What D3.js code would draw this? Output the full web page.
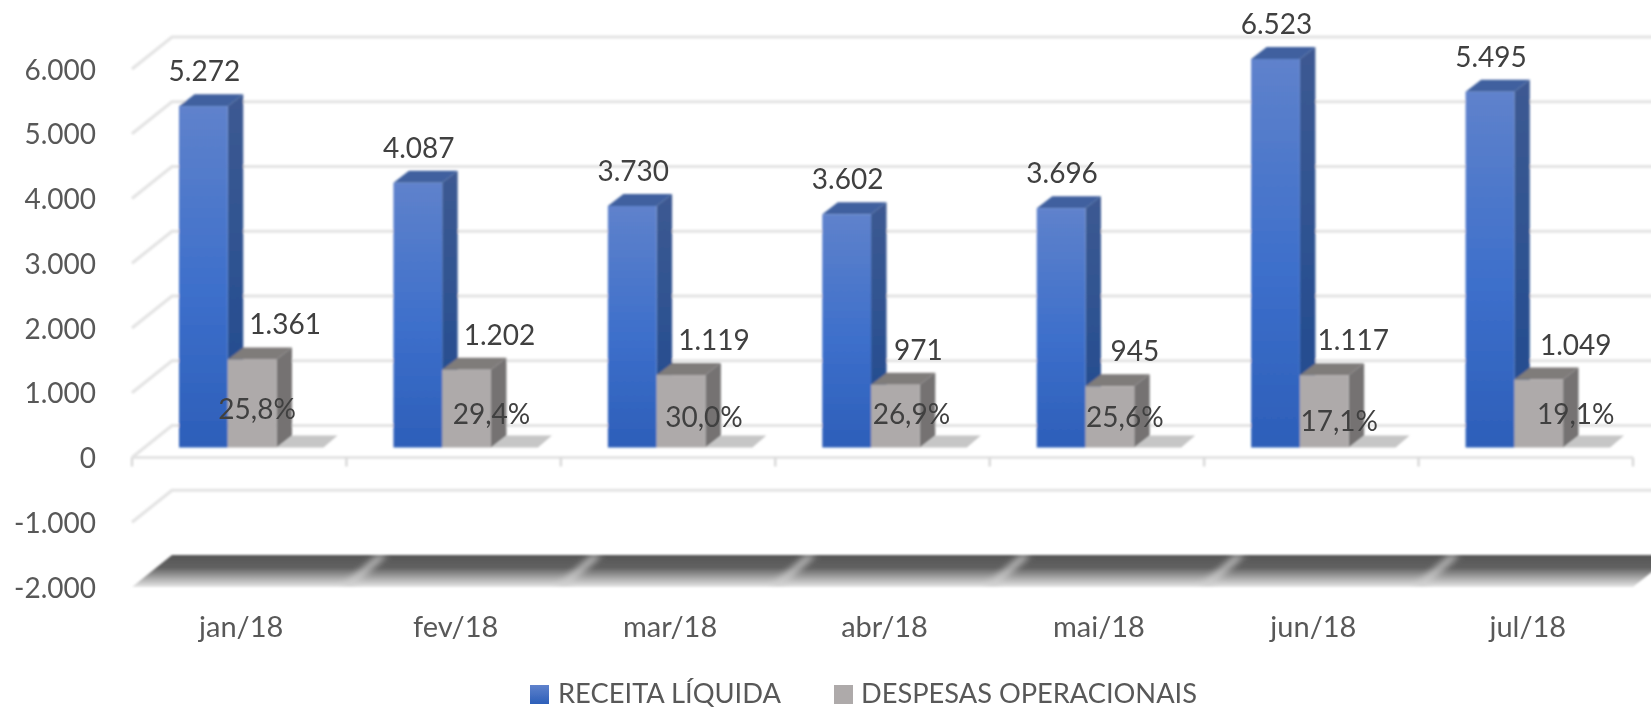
<!DOCTYPE html>
<html><head><meta charset="utf-8">
<script src="https://cdn.jsdelivr.net/npm/d3@7"></script>
<style>html,body{margin:0;padding:0;background:#fff;overflow:hidden}svg{display:block}text{font-family:Lato,sans-serif}</style>
</head><body><svg id="c" width="1651" height="709"></svg>
<script>
const categories = ["jan/18","fev/18","mar/18","abr/18","mai/18","jun/18","jul/18"];
const receita = [5272,4087,3730,3602,3696,6523,5495];
const despesas = [1361,1202,1119,971,945,1117,1049];
const percentuais = ["25,8%","29,4%","30,0%","26,9%","25,6%","17,1%","19,1%"];
const yTicks = [-2000,-1000,0,1000,2000,3000,4000,5000,6000];
const seriesNames = ["RECEITA LÍQUIDA","DESPESAS OPERACIONAIS"];

// label nudges relative to the grey bar centre
const valueNudge = [33,33,33,23,25,29,37];
const pctNudgeX = [5,25,23,16,15,15,37];
const pctNudgeY = [-39,-34,-31,-34,-31,-27,-34];

const svg = d3.select("#c");
const depth = {dx:40, dy:-32};
const barDepth = {dx:15.5, dy:-12};
const x = d3.scaleBand().domain(categories).range([132,1633]);
const inner = d3.scaleBand().domain([0,1]).range([47,144.5]);
const y = d3.scaleLinear().domain([-2000,6000]).range([587,69]).clamp(true);
const loc = d3.formatLocale({decimal:",",thousands:".",grouping:[3],currency:["",""],minus:"-"});
const fmt = loc.format(",d");

const defs = svg.append("defs");
function grad(id,stops){
  const g = defs.append("linearGradient").attr("id",id).attr("x1",0).attr("y1",0).attr("x2",0).attr("y2",1);
  stops.forEach(s=>g.append("stop").attr("offset",s[0]).attr("stop-color",s[1]));
}
grad("blueFront",[[0,"#5f82cc"],[0.55,"#3d6fcb"],[1,"#2d5fb9"]]);
grad("blueSide",[[0,"#3d5a92"],[1,"#1f4a90"]]);
grad("legendBlue",[[0,"#5f82cc"],[1,"#2d5fb9"]]);
grad("floor",[[0,"#555555"],[0.4,"#616161"],[0.72,"#a9a9a9"],[1,"#e6e6e6"]]);
defs.append("filter").attr("id","soft").attr("x","-5%").attr("y","-5%").attr("width","110%").attr("height","110%")
  .append("feGaussianBlur").attr("stdDeviation",0.9);
defs.append("filter").attr("id","softText").attr("x","-5%").attr("y","-5%").attr("width","110%").attr("height","110%")
  .append("feGaussianBlur").attr("stdDeviation",0.45);
defs.append("filter").attr("id","seam").attr("x","-100%").attr("y","-30%").attr("width","300%").attr("height","160%")
  .append("feGaussianBlur").attr("stdDeviation",3);

const chart = svg.append("g").attr("filter","url(#soft)");
const grid = chart.append("g");
const gridColor = "#e3e3e3";
const x0 = x.range()[0], x1 = x.range()[1];

// Gridlines: back wall + left side wall
yTicks.filter(t=>t>-2000).forEach(t=>{
  grid.append("path").attr("fill","none").attr("stroke",gridColor).attr("stroke-width",3.2)
    .attr("d",d3.line()([[x0,y(t)],[x0+depth.dx,y(t)+depth.dy],[x1+depth.dx,y(t)+depth.dy]]));
});
// Floor front edge and ticks at zero
grid.append("line").attr("x1",x0).attr("x2",x1).attr("y1",y(0)).attr("y2",y(0)).attr("stroke",gridColor).attr("stroke-width",3.2);
d3.range(categories.length+1).forEach(i=>{
  const tx = x0+i*x.bandwidth();
  grid.append("line").attr("x1",tx).attr("x2",tx).attr("y1",y(0)).attr("y2",y(0)+9).attr("stroke","#d9d9d9").attr("stroke-width",2.5);
});

// Dark base at the axis minimum: continuous plate with soft seams
const f = y(-2000);
const plate = [[x0,f],[x1,f],[x1+depth.dx,f+depth.dy],[x0+depth.dx,f+depth.dy]];
defs.append("clipPath").attr("id","plateClip").append("polygon").attr("points",plate.join(" "));
const floorG = chart.append("g");
floorG.append("polygon").attr("fill","url(#floor)").attr("points",plate.join(" "));
const seams = floorG.append("g").attr("clip-path","url(#plateClip)").append("g").attr("filter","url(#seam)");
d3.range(1,categories.length).forEach(i=>{
  const tx = x0+i*x.bandwidth();
  seams.append("polygon").attr("fill","#cfcfcf").attr("fill-opacity",0.8)
    .attr("points",[[tx-6,f],[tx+6,f],[tx+depth.dx+1,f+depth.dy],[tx+depth.dx-9,f+depth.dy]].join(" "));
});

// Bars
const baseShift = -10;
function drawBar(g,xp,w,top,base,front,side,topC){
  const d=barDepth;
  g.append("polygon").attr("fill",side)
    .attr("points",[[xp+w,top],[xp+w+d.dx,top+d.dy],[xp+w+d.dx,base+d.dy],[xp+w,base]].join(" "));
  g.append("polygon").attr("fill",topC)
    .attr("points",[[xp,top],[xp+d.dx,top+d.dy],[xp+w+d.dx,top+d.dy],[xp+w,top]].join(" "));
  g.append("rect").attr("x",xp).attr("y",top).attr("width",w).attr("height",base-top).attr("fill",front);
}
const bars = chart.append("g");
categories.forEach((c,i)=>{
  const base = y(0)+baseShift;
  const gx = x(c)+inner(1), w = inner.bandwidth();
  // floor shadow
  bars.append("polygon").attr("fill","#c6c6c6")
    .attr("points",[[gx+w,base],[gx+w+47,base],[gx+w+61,base-12],[gx+w+16,base-12]].join(" "));
  const g = bars.append("g");
  drawBar(g,x(c)+inner(0),w,y(receita[i])+baseShift,base,"url(#blueFront)","url(#blueSide)","#41619f");
  drawBar(g,gx,w,y(despesas[i])+baseShift,base,"#aeaaaa","#747272","#7f7b7a");
});

// Data labels
const labels = svg.append("g").attr("fill","#404040").attr("font-size",28).attr("text-anchor","middle").attr("filter","url(#softText)");
categories.forEach((c,i)=>{
  const bx = x(c)+inner(0)+inner.bandwidth()/2+1;
  const gx = x(c)+inner(1)+inner.bandwidth()/2;
  const base = y(0)+baseShift;
  labels.append("text").attr("x",bx).attr("y",y(receita[i])+baseShift-25).text(fmt(receita[i]));
  labels.append("text").attr("x",gx+valueNudge[i]).attr("y",y(despesas[i])+baseShift-25).text(fmt(despesas[i]));
  labels.append("text").attr("x",gx+pctNudgeX[i]).attr("y",base+pctNudgeY[i]+10).text(percentuais[i]);
});

// Axes
const yAxis = d3.axisLeft(y).tickValues(yTicks).tickFormat(fmt).tickSize(0).tickPadding(0);
const ay = svg.append("g").attr("transform","translate(96,0)").attr("filter","url(#softText)").call(yAxis);
ay.select(".domain").remove();
ay.selectAll("text").attr("font-size",28).attr("fill","#595959").style("font-family","Lato,sans-serif").attr("dy","0.36em");
const xAxis = d3.axisBottom(x).tickSize(0).tickPadding(0);
const ax = svg.append("g").attr("transform","translate(2,616)").attr("filter","url(#softText)").call(xAxis);
ax.select(".domain").remove();
ax.selectAll("text").attr("font-size",29).attr("fill","#595959").attr("dy","0.71em").style("font-family","Lato,sans-serif");

// Legend
const legend = svg.append("g").attr("filter","url(#softText)");
const legendLayout = [{sx:530,tx:558,len:223,fill:"url(#legendBlue)"},{sx:834,tx:861,len:336,fill:"#aeaaaa"}];
seriesNames.forEach((s,i)=>{
  const l = legendLayout[i];
  legend.append("rect").attr("x",l.sx).attr("y",685).attr("width",19).attr("height",19).attr("fill",l.fill);
  legend.append("text").attr("x",l.tx).attr("y",703).attr("font-size",27).attr("fill","#595959")
    .attr("textLength",l.len).attr("lengthAdjust","spacingAndGlyphs").text(s);
});
</script></body></html>
